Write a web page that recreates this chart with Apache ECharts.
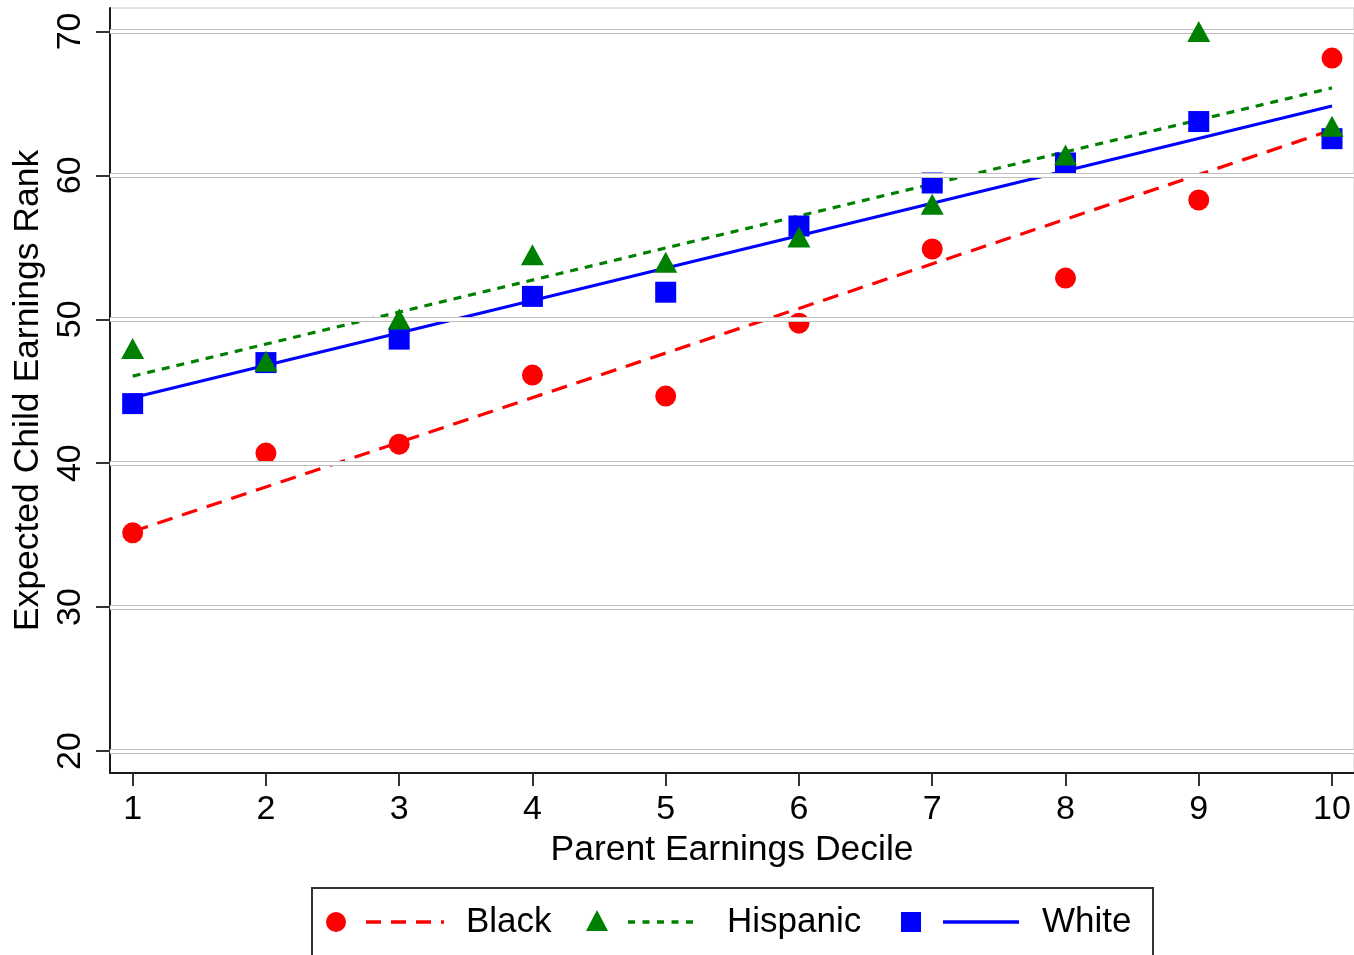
<!DOCTYPE html>
<html>
<head>
<meta charset="utf-8">
<title>Expected Child Earnings Rank by Parent Earnings Decile</title>
<script src="https://cdn.jsdelivr.net/npm/echarts@6/dist/echarts.min.js"></script>
<style>
  html, body { margin: 0; padding: 0; background: #ffffff; }
  #chart { width: 1354px; height: 955px; }
</style>
</head>
<body>
<div id="chart"></div>
<script>
// Parent earnings deciles (x) and tick values
const deciles = [1, 2, 3, 4, 5, 6, 7, 8, 9, 10];
const xTicks = [1, 2, 3, 4, 5, 6, 7, 8, 9, 10];
const yTicks = [20, 30, 40, 50, 60, 70];

// Mean child earnings rank per parent decile
const blackRank    = [35.16, 40.70, 41.32, 46.12, 44.66, 49.73, 54.88, 52.86, 58.29, 68.15];
const hispanicRank = [47.96, 47.09, 50.01, 54.48, 53.96, 55.71, 58.00, 61.41, 70.00, 63.41];
const whiteRank    = [44.14, 46.99, 48.62, 51.59, 51.88, 56.48, 59.47, 60.86, 63.74, 62.55];

// Linear fit lines: value at decile 1 and at decile 10
const fitDeciles  = [1, 10];
const blackFit    = [35.25, 63.15];
const hispanicFit = [46.05, 66.08];
const whiteFit    = [44.55, 64.82];

const FONT = "'Liberation Sans', Arial, Helvetica, sans-serif";
const RED = '#ff0000', GREEN = '#008000', BLUE = '#0000ff';

const pairs = (xs, ys) => xs.map((x, i) => [x, ys[i]]);

const chart = echarts.init(document.getElementById('chart'), null, { renderer: 'canvas' });

const gridLineData = yTicks.map(v => ({ yAxis: v }));

function gridSeries(color, width, z) {
  return {
    type: 'line', data: [], z: z, silent: true,
    markLine: {
      silent: true, animation: false, symbol: ['none', 'none'],
      label: { show: false },
      lineStyle: { color: color, width: width, type: 'solid' },
      emphasis: { disabled: true },
      data: gridLineData
    }
  };
}

function fitSeries(name, ys, color, dash) {
  return {
    name: name, type: 'line', z: 3,
    data: pairs(fitDeciles, ys),
    showSymbol: false, symbol: 'none', silent: true,
    lineStyle: { color: color, width: 3.2, type: dash, cap: 'butt' }
  };
}

function pointSeries(name, ys, color, symbol, size, z) {
  return {
    name: name, type: 'scatter', z: z,
    data: pairs(deciles, ys),
    symbol: symbol, symbolSize: size,
    itemStyle: { color: color, opacity: 1 }
  };
}

// Legend laid out as: marker, line sample, label
const legendX = 312, legendY = 888, legendMidY = 922;
const legendFont = '35px ' + FONT;
const legendGraphics = [
  { type: 'rect', shape: { x: legendX, y: legendY, width: 841, height: 120 },
    style: { fill: '#ffffff', stroke: '#333333', lineWidth: 2 } },
  { type: 'circle', shape: { cx: 336, cy: legendMidY, r: 10 }, style: { fill: RED } },
  { type: 'line', shape: { x1: 366, y1: legendMidY, x2: 444, y2: legendMidY },
    style: { stroke: RED, lineWidth: 3.5, lineDash: [15, 10] } },
  { type: 'text', x: 466, y: legendMidY,
    style: { text: 'Black', font: legendFont, fill: '#000', textVerticalAlign: 'middle' } },
  { type: 'polygon', shape: { points: [[597, 910], [608, 931], [586, 931]] }, style: { fill: GREEN } },
  { type: 'line', shape: { x1: 628, y1: legendMidY, x2: 700, y2: legendMidY },
    style: { stroke: GREEN, lineWidth: 3.5, lineDash: [7, 7.5] } },
  { type: 'text', x: 727, y: legendMidY,
    style: { text: 'Hispanic', font: legendFont, fill: '#000', textVerticalAlign: 'middle' } },
  { type: 'rect', shape: { x: 901, y: 912, width: 20, height: 20 }, style: { fill: BLUE } },
  { type: 'line', shape: { x1: 943, y1: legendMidY, x2: 1019, y2: legendMidY },
    style: { stroke: BLUE, lineWidth: 3.5 } },
  { type: 'text', x: 1042, y: legendMidY,
    style: { text: 'White', font: legendFont, fill: '#000', textVerticalAlign: 'middle' } }
];

const option = {
  backgroundColor: '#ffffff',
  animation: false,
  textStyle: { fontFamily: FONT },
  grid: {
    left: 110, top: 8, right: 0, bottom: 182,
    show: true, borderColor: '#c4c4c4', borderWidth: 1, backgroundColor: '#ffffff'
  },
  xAxis: {
    type: 'value', min: 0.83, max: 10.165,
    name: 'Parent Earnings Decile', nameLocation: 'middle', nameGap: 58,
    nameTextStyle: { fontSize: 35.5, color: '#000', fontFamily: FONT },
    axisLine: { show: true, lineStyle: { color: '#1a1a1a', width: 2 } },
    axisTick: { show: true, length: 13, customValues: xTicks, lineStyle: { color: '#333', width: 2 } },
    axisLabel: { customValues: xTicks, margin: 20, fontSize: 34, color: '#000', fontFamily: FONT,
                 formatter: v => String(Math.round(v)) },
    splitLine: { show: false }
  },
  yAxis: {
    type: 'value', min: 18.47, max: 71.63,
    name: 'Expected Child Earnings Rank', nameLocation: 'middle', nameGap: 61, nameRotate: 90,
    nameTextStyle: { fontSize: 35.5, color: '#000', fontFamily: FONT },
    axisLine: { show: true, lineStyle: { color: '#1a1a1a', width: 2 } },
    axisTick: { show: true, length: 14, customValues: yTicks, lineStyle: { color: '#333', width: 2 } },
    axisLabel: { customValues: yTicks, rotate: 90, margin: 22, fontSize: 34, color: '#000', fontFamily: FONT,
                 formatter: v => String(Math.round(v)) },
    splitLine: { show: false }
  },
  series: [
    gridSeries('#c0c0c0', 5, 1),
    gridSeries('#ffffff', 3, 1),
    fitSeries('Black fit', blackFit, RED, [16, 10]),
    fitSeries('Hispanic fit', hispanicFit, GREEN, [8, 7]),
    fitSeries('White fit', whiteFit, BLUE, 'solid'),
    pointSeries('White', whiteRank, BLUE, 'rect', 21, 4),
    pointSeries('Black', blackRank, RED, 'circle', 21, 4),
    pointSeries('Hispanic', hispanicRank, GREEN, 'triangle', [23, 21], 5)
  ],
  graphic: legendGraphics
};

chart.setOption(option);
</script>
</body>
</html>
